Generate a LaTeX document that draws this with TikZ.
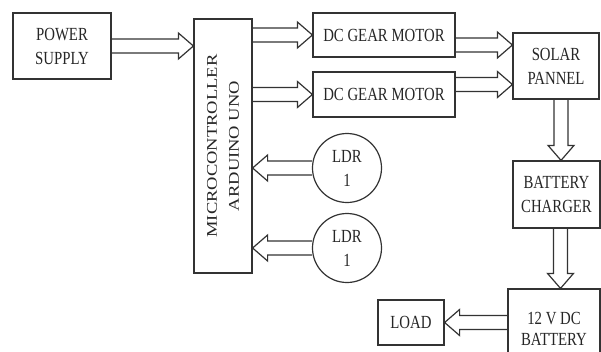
\documentclass[tikz,border=0pt]{standalone}
\usepackage{fontspec}
\setmainfont{Liberation Serif}
\usepackage{graphicx}
\usetikzlibrary{calc}
\newcommand\cx[1]{\scalebox{0.8}[1]{#1}}
\newcommand\cy[1]{\scalebox{1}[0.8]{#1}}
\definecolor{ln}{HTML}{333333}
\begin{document}
\begin{tikzpicture}[x=1pt,y=-1pt,
  box/.style={draw=ln, line width=1.2pt, fill=white, inner sep=0pt},
  txt/.style={font=\fontsize{18.5}{24}\selectfont, align=center, text=black!85},
  blk/.style={draw=ln, line width=1.2pt, line join=miter,
    to path={
      let \p1=($(\tikztotarget)!15pt!(\tikztostart)$) in
      ($(\tikztostart)!7pt!90:(\tikztotarget)$) -- ($(\p1)!7pt!90:(\tikztotarget)$)
      -- ($(\p1)!13pt!90:(\tikztotarget)$) -- (\tikztotarget)
      -- ($(\p1)!13pt!-90:(\tikztotarget)$) -- ($(\p1)!7pt!-90:(\tikztotarget)$)
      -- ($(\tikztostart)!7pt!-90:(\tikztotarget)$)
    }}
]
\clip (0,0) rectangle (601,351);
\fill[white] (0,0) rectangle (601,351);

\node[box, txt, minimum width=98, minimum height=66] (ps) at (62,46) {\cx{POWER}\\\cx{SUPPLY}};
\node[box, minimum width=58, minimum height=254] (mc) at (223,146) {};
\node[txt, rotate=90] (mct) at (mc.center) {\cy{MICROCONTROLLER}\\[-2pt]\cy{ARDUINO UNO}};
\node[box, txt, minimum width=142, minimum height=44] (m1) at (384,35) {\cx{DC GEAR MOTOR}};
\node[box, txt, minimum width=142, minimum height=45] (m2) at (384,94.5) {\cx{DC GEAR MOTOR}};
\node[box, txt, minimum width=86, minimum height=66] (sp) at (556,66) {\cx{SOLAR}\\\cx{PANNEL}};
\node[box, txt, minimum width=87, minimum height=67] (bc) at (556.5,194.5) {\cx{BATTERY}\\\cx{CHARGER}};
\node[box, minimum width=92, minimum height=86] (bat) at (554,332) {};
\node[txt] (batt) at (554,329) {\cx{12 V DC}\\[-3pt]\cx{BATTERY}};
\node[box, txt, minimum width=66, minimum height=45] (ld) at (411,322.5) {\cx{LOAD}};
\node[box, txt, circle, minimum size=69] (l1) at (347,168) {\cx{LDR}\\\cx{1}};
\node[box, txt, circle, minimum size=69] (l2) at (347,248) {\cx{LDR}\\\cx{1}};

\coordinate (s1) at ($(m1.east)+(0,10)$);
\coordinate (s2) at ($(m2.east)+(0,-10)$);
\coordinate (v1) at ($(sp.south)+(5,0)$);
\coordinate (v2) at ($(bc.south)+(4,0)$);

\draw[blk] (ps.east) to (mc.west |- ps.east);
\draw[blk] (mc.east |- m1.west) to (m1.west);
\draw[blk] (mc.east |- m2.west) to (m2.west);
\draw[blk] (s1) to (sp.west |- s1);
\draw[blk] (s2) to (sp.west |- s2);
\draw[blk] (v1) to (v1 |- bc.north);
\draw[blk] (v2) to (v2 |- bat.north);
\draw[blk] (bat.west |- ld.east) to (ld.east);
\draw[blk] (l1.west) to (mc.east |- l1.west);
\draw[blk] (l2.west) to (mc.east |- l2.west);
\end{tikzpicture}
\end{document}
